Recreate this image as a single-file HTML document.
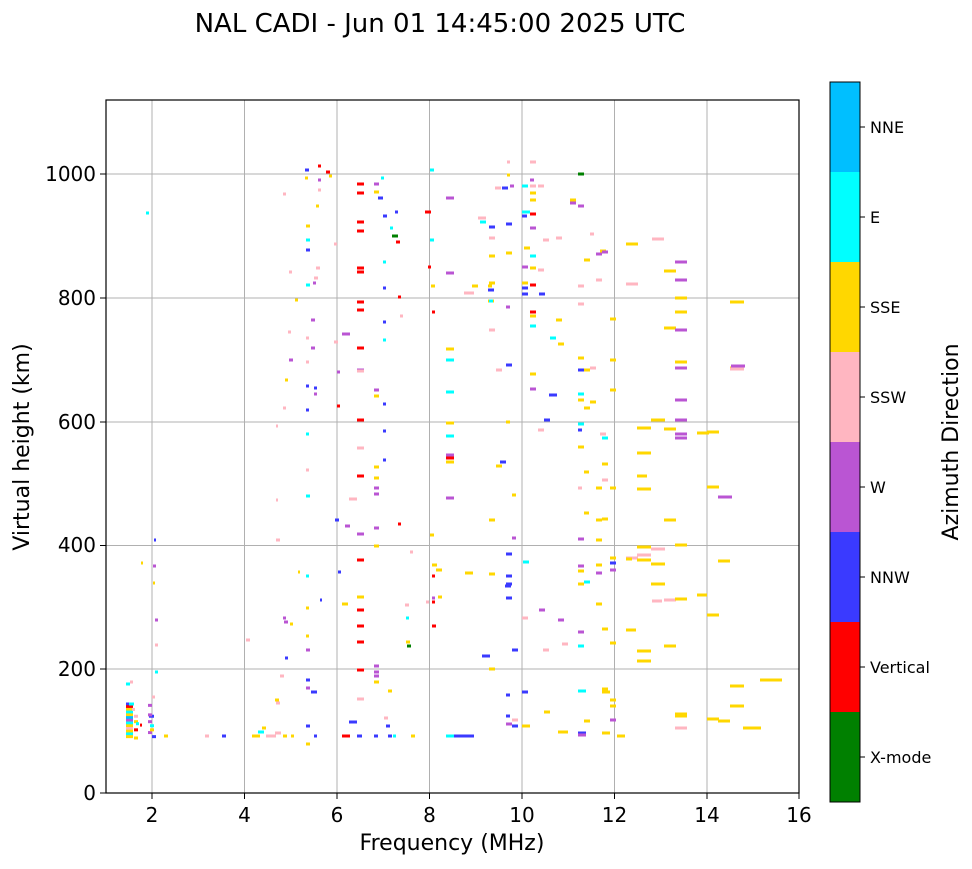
<!DOCTYPE html>
<html><head><meta charset="utf-8"><style>
body{margin:0;background:#fff;width:972px;height:865px;overflow:hidden;font-family:"DejaVu Sans","Liberation Sans",sans-serif}
</style></head><body>
<svg id="s" width="972" height="865" xmlns="http://www.w3.org/2000/svg" font-family="DejaVu Sans, Liberation Sans, sans-serif">
<text x="440" y="32" font-size="26" text-anchor="middle">NAL CADI - Jun 01 14:45:00 2025 UTC</text>
<g stroke="#b0b0b0" stroke-width="1">
<line x1="152" y1="100" x2="152" y2="793"/><line x1="244.5" y1="100" x2="244.5" y2="793"/><line x1="337" y1="100" x2="337" y2="793"/><line x1="429.5" y1="100" x2="429.5" y2="793"/><line x1="522" y1="100" x2="522" y2="793"/><line x1="614.5" y1="100" x2="614.5" y2="793"/><line x1="707" y1="100" x2="707" y2="793"/>
<line x1="106" y1="669" x2="799" y2="669"/><line x1="106" y1="545.5" x2="799" y2="545.5"/><line x1="106" y1="422" x2="799" y2="422"/><line x1="106" y1="298" x2="799" y2="298"/><line x1="106" y1="174" x2="799" y2="174"/>
</g>
<g id="d"></g>
<rect x="106" y="100" width="693" height="693" fill="none" stroke="#000" stroke-width="1.2"/>
<g stroke="#000" stroke-width="1">
<line x1="152" y1="793" x2="152" y2="799"/><line x1="244.5" y1="793" x2="244.5" y2="799"/><line x1="337" y1="793" x2="337" y2="799"/><line x1="429.5" y1="793" x2="429.5" y2="799"/><line x1="522" y1="793" x2="522" y2="799"/><line x1="614.5" y1="793" x2="614.5" y2="799"/><line x1="707" y1="793" x2="707" y2="799"/><line x1="799" y1="793" x2="799" y2="799"/>
<line x1="100" y1="793" x2="106" y2="793"/><line x1="100" y1="669" x2="106" y2="669"/><line x1="100" y1="545.5" x2="106" y2="545.5"/><line x1="100" y1="422" x2="106" y2="422"/><line x1="100" y1="298" x2="106" y2="298"/><line x1="100" y1="174" x2="106" y2="174"/>
</g>
<g font-size="20" text-anchor="middle">
<text x="152" y="822">2</text><text x="244.5" y="822">4</text><text x="337" y="822">6</text><text x="429.5" y="822">8</text><text x="522" y="822">10</text><text x="614.5" y="822">12</text><text x="707" y="822">14</text><text x="799" y="822">16</text>
<text x="452" y="850" font-size="22">Frequency (MHz)</text>
</g>
<g font-size="20" text-anchor="end">
<text x="96" y="800">0</text><text x="96" y="676">200</text><text x="96" y="552">400</text><text x="96" y="429">600</text><text x="96" y="305">800</text><text x="96" y="181">1000</text>
</g>
<text transform="translate(29,447) rotate(-90)" font-size="22" text-anchor="middle">Virtual height (km)</text>
<g>
<rect x="830" y="82" width="30" height="90" fill="#00bfff"/>
<rect x="830" y="172" width="30" height="90" fill="#00ffff"/>
<rect x="830" y="262" width="30" height="90" fill="#ffd700"/>
<rect x="830" y="352" width="30" height="90" fill="#ffb6c1"/>
<rect x="830" y="442" width="30" height="90" fill="#ba55d3"/>
<rect x="830" y="532" width="30" height="90" fill="#3a3aff"/>
<rect x="830" y="622" width="30" height="90" fill="#ff0000"/>
<rect x="830" y="712" width="30" height="90" fill="#008000"/>
<rect x="830" y="82" width="30" height="720" fill="none" stroke="#000"/>
</g>
<g stroke="#000"><line x1="860" y1="127" x2="865" y2="127"/><line x1="860" y1="217" x2="865" y2="217"/><line x1="860" y1="307" x2="865" y2="307"/><line x1="860" y1="397" x2="865" y2="397"/><line x1="860" y1="487" x2="865" y2="487"/><line x1="860" y1="577" x2="865" y2="577"/><line x1="860" y1="667" x2="865" y2="667"/><line x1="860" y1="757" x2="865" y2="757"/></g>
<g font-size="16">
<text x="870" y="133">NNE</text><text x="870" y="223">E</text><text x="870" y="313">SSE</text><text x="870" y="403">SSW</text><text x="870" y="493">W</text><text x="870" y="583">NNW</text><text x="870" y="673">Vertical</text><text x="870" y="763">X-mode</text>
</g>
<text transform="translate(958,442) rotate(-90)" font-size="22" text-anchor="middle">Azimuth Direction</text>
</svg>
<script>
var C={g:"#008000",r:"#ff0000",b:"#3a3aff",w:"#ba55d3",p:"#ffb6c1",y:"#ffd700",c:"#00ffff",n:"#00bfff"};
var D=[
[126,704,7,"b"],[126,708,7,"r"],[126,712,7,"y"],[126,716,7,"c"],[126,720,7,"y"],[126,724,7,"n"],[126,728,7,"w"],[126,732,7,"c"],[126,736,7,"y"],[126,740,7,"p"],[126,744,7,"y"],[126,748,7,"c"],[126,752,7,"y"],[129,704,5,"c"],[132,712,3,"p"],[134,722,4,"p"],[134,730,4,"y"],[134,742,4,"r"],[134,754,4,"y"],[136,733,3,"c"],[140,735,2,"r"],
[148,706,4,"w"],[149,722,5,"b"],[148,720,4,"w"],[148,730,4,"w"],[150,736,4,"c"],[148,746,4,"w"],[152,752,4,"b"],[150,742,4,"y"],[126,684,4,"c"],[130,682,3,"p"],[164,736,4,"y"],[152,697,3,"p"],[155,672,3,"c"],[154,540,2,"b"],[153,566,3,"w"],[153,583,2,"y"],[155,620,3,"w"],[155,645,3,"p"],[146,213,3,"c"],[141,563,2,"y"],
[205,736,4,"p"],[222,736,4,"b"],[252,736,8,"y"],[258,732,6,"c"],[262,728,4,"y"],[266,736,10,"p"],[275,733,6,"p"],[283,736,4,"y"],[291,736,3,"y"],[246,640,4,"p"],[276,703,4,"p"],[275,700,4,"y"],[280,676,4,"p"],[285,658,3,"b"],[283,618,3,"w"],[284,622,4,"w"],[276,540,4,"p"],[276,500,2,"p"],[276,426,2,"p"],[283,408,3,"p"],[283,194,3,"p"],[285,380,3,"y"],[289,360,4,"w"],[288,332,3,"p"],[289,272,3,"p"],[295,300,3,"y"],[290,624,3,"y"],[298,572,2,"y"],
[305,170,4,"b"],[305,178,3,"y"],[306,226,4,"y"],[306,240,4,"c"],[306,250,4,"b"],[306,285,4,"c"],[306,338,3,"p"],[306,362,3,"p"],[306,386,3,"b"],[306,410,3,"b"],[306,434,3,"c"],[306,470,3,"p"],[306,496,4,"c"],[306,576,3,"c"],[306,608,3,"y"],[306,636,3,"y"],[306,650,4,"w"],[306,680,4,"b"],[306,688,4,"w"],[306,726,4,"b"],[306,744,4,"y"],[311,692,6,"b"],[311,320,4,"w"],[311,348,4,"w"],[314,388,3,"b"],[314,394,3,"w"],[316,268,4,"p"],[316,206,3,"y"],[318,166,3,"r"],[318,180,3,"w"],[318,190,3,"p"],[314,736,3,"b"],[314,278,4,"p"],[313,283,3,"w"],[320,600,2,"b"],
[326,172,4,"r"],[329,176,3,"y"],[334,244,3,"p"],[334,342,4,"p"],[337,372,3,"w"],[337,406,3,"r"],[335,520,4,"b"],[338,572,3,"b"],[342,736,8,"r"],[349,499,8,"p"],[345,526,5,"w"],[342,604,6,"y"],[349,722,8,"b"],[342,334,8,"w"],
[357,184,7,"r"],[357,193,7,"r"],[357,222,7,"r"],[357,231,7,"r"],[357,268,7,"r"],[357,272,7,"r"],[357,302,7,"r"],[357,310,7,"r"],[357,348,7,"r"],[357,370,7,"w"],[357,371,7,"p"],[357,420,7,"r"],[357,448,7,"p"],[357,476,7,"r"],[357,534,7,"w"],[357,560,7,"r"],[357,597,7,"y"],[357,610,7,"r"],[357,626,7,"r"],[357,642,7,"r"],[357,670,7,"r"],[357,699,7,"p"],[357,736,5,"b"],
[374,184,5,"w"],[374,192,5,"y"],[378,198,5,"b"],[374,390,5,"w"],[374,396,5,"y"],[374,666,5,"w"],[374,672,5,"w"],[374,676,5,"w"],[374,682,5,"y"],[374,467,5,"y"],[374,478,5,"y"],[374,488,5,"w"],[374,494,5,"w"],[374,528,5,"w"],[374,546,5,"y"],[374,736,4,"b"],[383,262,3,"c"],[383,288,3,"b"],[383,340,3,"c"],[383,322,3,"b"],[383,216,4,"b"],[383,404,3,"b"],[383,431,3,"b"],[383,460,3,"b"],[381,178,3,"c"],[388,691,4,"y"],[386,726,4,"b"],[390,228,3,"c"],[395,212,3,"b"],[392,236,6,"g"],[396,242,4,"r"],[398,297,3,"r"],[398,524,3,"r"],[388,736,4,"b"],[384,718,4,"p"],[393,736,3,"c"],[400,316,3,"p"],[405,605,4,"p"],[406,618,3,"c"],[407,646,4,"g"],[406,642,4,"y"],[410,552,3,"p"],[411,736,4,"y"],
[425,212,6,"r"],[430,240,4,"c"],[430,170,4,"c"],[428,267,3,"r"],[431,286,4,"y"],[432,312,3,"r"],[430,535,4,"y"],[432,565,5,"y"],[432,576,3,"r"],[432,598,3,"w"],[432,602,3,"r"],[432,626,4,"r"],[426,602,3,"p"],[438,597,4,"y"],[446,198,8,"w"],[446,273,8,"w"],[446,349,8,"y"],[446,360,8,"c"],[446,392,8,"c"],[446,423,8,"y"],[446,436,8,"c"],[446,455,8,"w"],[446,458,8,"r"],[446,462,8,"y"],[446,498,8,"w"],[446,736,14,"c"],[454,736,20,"b"],[436,570,6,"y"],
[465,573,8,"y"],[464,293,10,"p"],[472,286,6,"y"],[478,218,8,"p"],[480,222,6,"c"],[488,286,4,"y"],[489,238,6,"p"],[489,227,6,"b"],[489,256,6,"y"],[489,283,6,"y"],[488,290,6,"b"],[488,301,6,"y"],[489,301,4,"c"],[489,330,6,"p"],[489,520,6,"y"],[489,574,6,"y"],[482,656,8,"b"],[489,669,6,"y"],[495,188,6,"p"],[502,188,6,"b"],[496,370,6,"p"],[496,466,6,"y"],[500,462,6,"b"],[506,224,6,"b"],[506,253,6,"y"],[506,307,4,"w"],[506,365,6,"b"],[506,422,4,"y"],[506,554,6,"b"],[506,576,6,"b"],[506,584,6,"b"],[506,598,6,"b"],[506,695,4,"b"],[506,716,4,"b"],[506,724,6,"w"],[507,162,3,"p"],[507,175,3,"y"],[510,186,4,"w"],[512,538,4,"w"],[512,495,4,"y"],[512,650,6,"b"],[512,720,6,"p"],[512,726,6,"b"],[505,586,6,"b"],
[522,186,6,"c"],[522,212,8,"c"],[522,216,5,"b"],[522,267,6,"w"],[522,283,6,"y"],[522,288,6,"b"],[522,294,6,"b"],[522,618,6,"p"],[522,692,6,"b"],[522,726,8,"y"],[523,562,6,"c"],[524,248,6,"y"],[530,180,4,"w"],[530,186,6,"p"],[530,193,6,"y"],[530,200,6,"y"],[530,214,6,"r"],[530,228,6,"w"],[530,256,6,"c"],[530,268,6,"y"],[530,285,6,"r"],[530,312,6,"r"],[530,316,6,"y"],[530,326,6,"c"],[530,374,6,"y"],[530,389,6,"w"],[530,162,6,"p"],[538,186,6,"p"],[538,270,6,"p"],[539,294,6,"b"],[539,610,6,"w"],[543,240,6,"p"],[544,420,6,"b"],[543,650,6,"p"],[544,712,6,"y"],[538,430,6,"p"],[550,338,6,"c"],[549,395,8,"b"],[556,238,6,"p"],[556,320,6,"y"],[558,344,6,"y"],[558,620,6,"w"],[558,732,10,"y"],[562,644,6,"p"],[570,200,6,"y"],[570,203,6,"w"],[578,174,6,"g"],[578,206,6,"w"],[578,286,6,"p"],[578,304,6,"p"],[578,358,6,"y"],[578,370,6,"b"],[578,394,6,"c"],[578,400,6,"y"],[578,424,6,"c"],[578,430,4,"b"],[578,447,6,"y"],[578,488,4,"p"],[578,539,6,"w"],[578,566,6,"w"],[578,571,6,"y"],[578,584,6,"y"],[578,632,6,"w"],[578,646,6,"c"],[578,691,8,"c"],[578,733,8,"b"],[578,735,8,"w"],[584,260,6,"y"],[584,370,6,"y"],[584,408,6,"y"],[584,472,5,"y"],[584,513,5,"y"],[584,582,6,"c"],[584,721,6,"y"],[590,234,4,"p"],[590,368,6,"p"],[590,402,6,"y"],[596,254,6,"w"],[596,280,6,"p"],[596,604,6,"y"],[596,488,6,"y"],[596,520,6,"y"],[596,540,6,"y"],[596,565,6,"y"],[596,573,6,"w"],[600,251,6,"y"],[600,434,6,"p"],[602,252,6,"w"],[602,438,6,"c"],[602,689,6,"y"],[602,733,8,"y"],[602,480,6,"p"],[602,519,6,"y"],[602,464,6,"y"],[602,629,6,"y"],[602,692,8,"y"],[610,319,6,"y"],[610,360,6,"y"],[610,390,6,"y"],[610,488,6,"y"],[610,558,6,"y"],[610,563,6,"b"],[610,570,6,"w"],[610,643,6,"y"],[610,700,6,"y"],[610,706,6,"y"],[610,720,6,"w"],[617,736,8,"y"],[626,244,12,"y"],[626,284,12,"p"],[626,558,12,"p"],[626,559,6,"y"],[626,630,10,"y"],[637,428,14,"y"],[637,453,14,"y"],[637,476,10,"y"],[637,489,14,"y"],[637,547,14,"y"],[637,555,14,"p"],[637,560,14,"y"],[637,651,14,"y"],[637,661,14,"y"],[652,239,12,"p"],[651,420,14,"y"],[651,549,14,"p"],[651,564,14,"y"],[651,584,14,"y"],[652,601,10,"p"],[664,271,12,"y"],[664,328,12,"y"],[664,429,12,"y"],[664,520,12,"y"],[664,646,12,"y"],[664,600,12,"p"],[675,262,12,"w"],[675,280,12,"w"],[675,298,12,"y"],[675,312,12,"y"],[675,330,12,"w"],[675,362,12,"y"],[675,368,12,"w"],[675,400,12,"w"],[675,420,12,"w"],[675,434,12,"w"],[675,438,12,"w"],[675,545,12,"y"],[675,599,12,"y"],[675,714,12,"y"],[675,716,12,"y"],[675,728,12,"p"],[697,433,12,"y"],[697,595,10,"y"],[707,432,12,"y"],[707,487,12,"y"],[707,615,12,"y"],[707,719,12,"y"],[718,497,14,"w"],[718,561,12,"y"],[718,721,12,"y"],[730,302,14,"y"],[730,368,14,"y"],[731,366,14,"w"],[730,369,14,"p"],[730,686,14,"y"],[730,706,14,"y"],[743,728,18,"y"],[760,680,22,"y"]
];
var g=document.getElementById("d"),h="";
D.forEach(function(a){var y=a[1];if(a[0]<160&&y>700)y=704+(y-704)*0.68;h+='<rect x="'+a[0]+'" y="'+(y-1.5)+'" width="'+a[2]+'" height="3" fill="'+C[a[3]]+'"/>';});
g.innerHTML=h;
</script>
</body></html>
